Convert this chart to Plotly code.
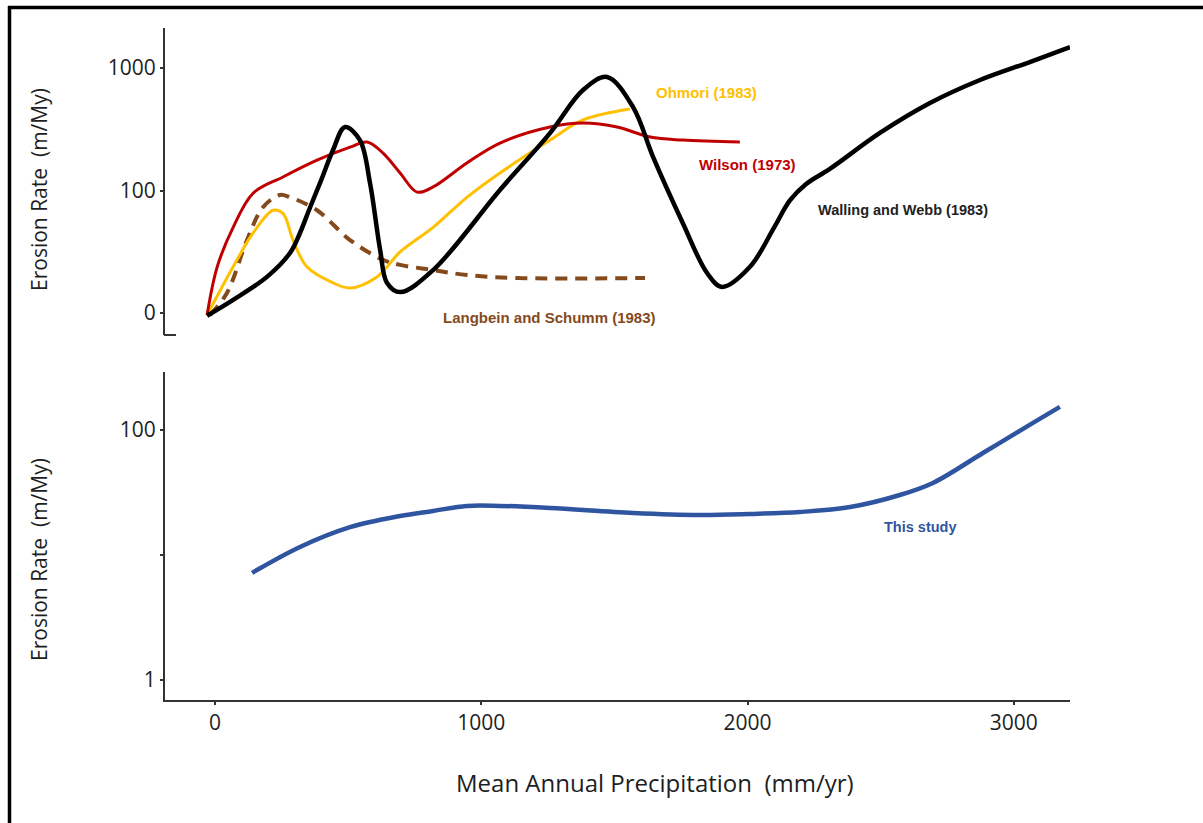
import plotly.graph_objects as go

W, H = 1203, 823

# ---- data ----
walling_x = [-30, 68, 195, 282, 319, 357, 399, 443, 488, 544, 582, 620, 646, 695, 819, 1070, 1258, 1382,
             1472, 1570, 1645, 1757, 1848, 1904, 2009, 2100, 2159, 2220, 2309, 2497, 2685, 2873, 3060, 3211]
walling_y = [9.5, 12.8, 19.7, 31, 45, 73, 122, 214, 330, 258, 115, 32.7, 17.6, 14.8, 22.4, 101, 294, 661,
             845, 480, 188, 54, 21.2, 16.3, 23.8, 50, 83, 113, 150, 295, 518, 798, 1120, 1483]

wilson_x = [-30, 8, 68, 143, 255, 383, 507, 571, 631, 695, 759, 819, 946, 1070, 1258, 1382, 1510,
            1634, 1757, 1971]
wilson_y = [9.6, 23.8, 50, 95, 129, 177, 226, 249, 202, 139, 97, 107, 168, 244, 330, 355, 330,
            273, 258, 249]

ohmori_x = [-30, 68, 143, 218, 255, 293, 345, 443, 507, 608, 695, 819, 946, 1070, 1258, 1382, 1558]
ohmori_y = [9.6, 23.8, 45, 69, 65, 39.4, 23.8, 17.6, 16, 19.7, 31.5, 50, 88, 139, 258, 377, 463]

langbein_x = [-19, 45, 120, 180, 244, 282, 383, 507, 631, 695, 819, 946, 1134, 1615]
langbein_y = [9.6, 14.6, 39.4, 73, 92, 88, 69, 39.4, 27.1, 24.7, 22.4, 20.4, 19.3, 19.3]

study_x = [139, 319, 507, 695, 819, 946, 1070, 1258, 1570, 1821, 2009, 2197, 2385, 2572, 2696,
           2884, 3072, 3173]
study_y = [7.2, 11.6, 16.7, 20.5, 22.5, 24.7, 24.7, 23.8, 21.7, 20.9, 21.3, 22.1, 24.2, 30.2, 37.7,
           65.5, 114, 153]

x_ticks = [0, 1000, 2000, 3000]
x_tick_text = ["0", "1000", "2000", "3000"]
top_y_ticks = [10, 100, 1000]
top_y_tick_text = ["0", "100", "1000"]
bot_y_ticks = [1, 10, 100]
bot_y_tick_text = ["1", "", "100"]

# ---- colours ----
C_BLACK = "#000000"
C_RED = "#C00000"
C_GOLD = "#FFC000"
C_BROWN = "#844A1C"
C_BLUE = "#2F55A0"
AX = "#333333"
TXT = "#1e1e1e"

def px(x):
    return x / W

def py(y):
    return 1 - y / H

fig = go.Figure()

def line(x, y, color, width, axes, dash="solid"):
    fig.add_trace(go.Scatter(x=x, y=y, mode="lines",
                             line=dict(color=color, width=width, shape="spline", smoothing=1.0, dash=dash),
                             xaxis=axes[0], yaxis=axes[1], showlegend=False, hoverinfo="skip"))

line(langbein_x, langbein_y, C_BROWN, 4, ("x2", "y2"), dash="12px,8px")
line(ohmori_x, ohmori_y, C_GOLD, 3, ("x2", "y2"))
line(wilson_x, wilson_y, C_RED, 3, ("x2", "y2"))
line(walling_x, walling_y, C_BLACK, 4.5, ("x2", "y2"))
line(study_x, study_y, C_BLUE, 4.5, ("x", "y"))

xdom = [px(165), px(1070)]
xr = [-188, 3211]

fig.update_layout(
    width=W, height=H,
    margin=dict(l=0, r=0, t=0, b=0),
    paper_bgcolor="white", plot_bgcolor="white",
    font=dict(family="Open Sans", color=TXT),
    xaxis=dict(domain=xdom, range=xr, anchor="y", showgrid=False, zeroline=False,
               showline=True, linecolor=AX, linewidth=2,
               ticks="outside", ticklen=3, tickwidth=2, tickcolor=AX,
               tickvals=x_ticks, ticktext=x_tick_text,
               tickfont=dict(size=21, family="Open Sans", color=TXT)),
    yaxis=dict(domain=[py(700), py(372)], type="log", range=[-0.16, 2.464], anchor="x",
               showgrid=False, zeroline=False, showline=True, linecolor=AX, linewidth=2,
               ticks="outside", ticklen=3, tickwidth=2, tickcolor=AX,
               tickvals=bot_y_ticks, ticktext=bot_y_tick_text,
               tickfont=dict(size=21, family="Open Sans", color=TXT)),
    xaxis2=dict(domain=xdom, range=xr, anchor="y2", visible=False),
    yaxis2=dict(domain=[py(335), py(28)], type="log", range=[0.82, 3.327], anchor="x2",
                showgrid=False, zeroline=False, showline=True, linecolor=AX, linewidth=2,
                ticks="outside", ticklen=3, tickwidth=2, tickcolor=AX,
                tickvals=top_y_ticks, ticktext=top_y_tick_text,
                tickfont=dict(size=21, family="Open Sans", color=TXT)),
)

annotations = [
    dict(text="Ohmori (1983)", x=px(706), y=py(92), color=C_GOLD, size=15),
    dict(text="Wilson (1973)", x=px(747), y=py(165), color=C_RED, size=15),
    dict(text="Walling and Webb (1983)", x=px(903), y=py(210), color="#222222", size=14.5),
    dict(text="Langbein and Schumm (1983)", x=px(549), y=py(318), color=C_BROWN, size=15),
    dict(text="This study", x=px(920), y=py(527), color=C_BLUE, size=14.5),
]
for a in annotations:
    fig.add_annotation(x=a["x"], y=a["y"], xref="paper", yref="paper", text="<b>" + a["text"] + "</b>",
                       showarrow=False, xanchor="center", yanchor="middle",
                       font=dict(family="Liberation Sans", size=a["size"], color=a["color"]))

# axis titles
for yc in (190, 560):
    fig.add_annotation(x=px(39), y=py(yc), xref="paper", yref="paper", text="Erosion Rate  (m/My)",
                       textangle=-90, showarrow=False, xanchor="center", yanchor="middle",
                       font=dict(family="Open Sans", size=21, color=TXT))
fig.add_annotation(x=px(655), y=py(782), xref="paper", yref="paper",
                   text="Mean Annual Precipitation  (mm/yr)", xanchor="center", yanchor="middle",
                   showarrow=False, font=dict(family="Open Sans", size=24, color=TXT))

# decorations: frame and small stub at the bottom of the top axis
fig.add_shape(type="line", xref="paper", yref="paper", x0=px(8), x1=1.0, y0=py(7.5), y1=py(7.5),
              line=dict(color="black", width=3.5))
fig.add_shape(type="line", xref="paper", yref="paper", x0=px(9.5), x1=px(9.5), y0=py(6), y1=0,
              line=dict(color="black", width=3.5))
fig.add_shape(type="line", xref="paper", yref="paper", x0=px(164), x1=px(176), y0=py(335), y1=py(335),
              line=dict(color=AX, width=2))

fig.write_html("out.html", config={"displayModeBar": False},
               post_script="document.body.style.margin='0px';")
